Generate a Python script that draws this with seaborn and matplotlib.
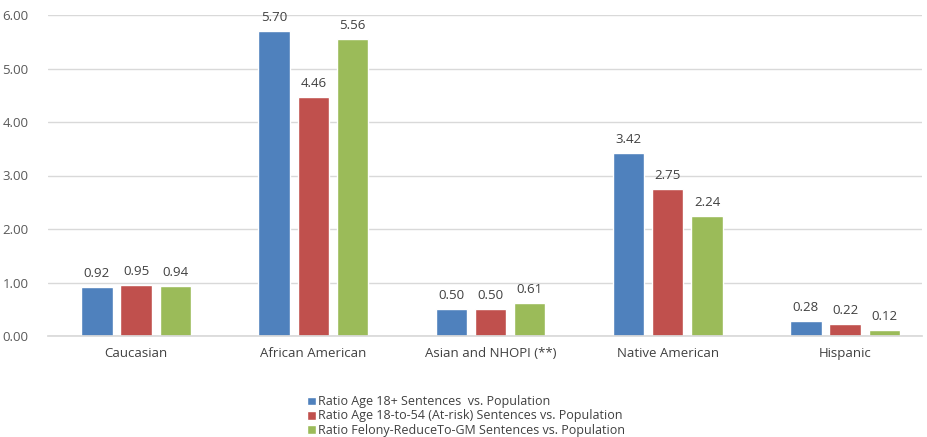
import matplotlib
matplotlib.use("Agg")
import matplotlib.pyplot as plt
import seaborn as sns
import pandas as pd

categories = ["Caucasian", "African American", "Asian and NHOPI (**)", "Native American", "Hispanic"]
series = ["Ratio Age 18+ Sentences  vs. Population",
          "Ratio Age 18-to-54 (At-risk) Sentences vs. Population",
          "Ratio Felony-ReduceTo-GM Sentences vs. Population"]
age18 = [0.92, 5.70, 0.50, 3.42, 0.28]
age18_54 = [0.95, 4.46, 0.50, 2.75, 0.22]
felony = [0.94, 5.56, 0.61, 2.24, 0.12]
colors = ["#4F81BD", "#C0504D", "#9BBB59"]

rows = []
for s, vals in zip(series, [age18, age18_54, felony]):
    for c, v in zip(categories, vals):
        rows.append({"cat": c, "series": s, "val": v})
df = pd.DataFrame(rows)

sns.set_theme(style="white")
plt.rcParams['font.family'] = ['Open Sans', 'DejaVu Sans']

fig = plt.figure(figsize=(9.27, 4.37), dpi=100)
ax = fig.add_axes([48/927, 1-336/437, (922-48)/927, (336-15)/437])
sns.barplot(data=df, x="cat", y="val", hue="series", palette=colors,
            width=0.663, gap=0.2, ax=ax, errorbar=None, saturation=1)

ax.set_ylim(0, 6)
ax.set_xlim(-0.4965, 4.434)
ax.set_yticks([0, 1, 2, 3, 4, 5, 6])
ax.set_yticklabels([f"{v:.2f}" for v in range(7)], color="#595959", fontsize=9.5)
ax.tick_params(axis="x", colors="#404040", labelsize=9.5, length=0, pad=8)
ax.tick_params(axis="y", length=0, pad=14)
ax.grid(axis="y", color="#D9D9D9", linewidth=1)
ax.set_axisbelow(True)
for sp in ["left", "right", "top"]:
    ax.spines[sp].set_visible(False)
ax.spines["bottom"].set_color("#D9D9D9")
ax.set_xlabel("")
ax.set_ylabel("")

for cont in ax.containers:
    ax.bar_label(cont, fmt="%.2f", padding=5, fontsize=9.5, color="#404040")

h, l = ax.get_legend_handles_labels()
ax.legend(h, l, loc="upper left", bbox_to_anchor=(301/927, 1-389/437),
          bbox_transform=fig.transFigure, frameon=False, fontsize=9,
          handlelength=0.7, handleheight=0.7, handletextpad=0.2,
          labelspacing=0.1, borderpad=0, labelcolor="#404040")

fig.savefig("out.png", dpi=100)
